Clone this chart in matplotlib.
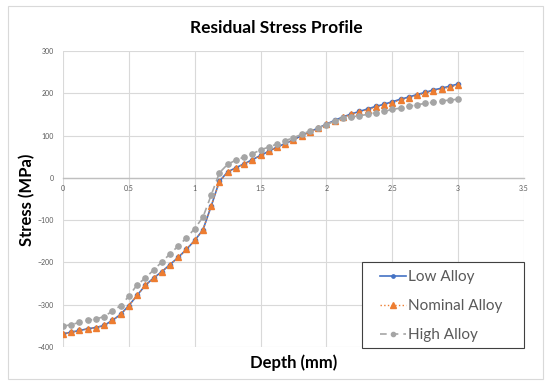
import numpy as np
import matplotlib
matplotlib.use("Agg")
from matplotlib import pyplot as plt
from matplotlib.patches import Rectangle

plt.rcParams['font.family'] = ['Lato', 'DejaVu Sans']

# depth (mm), one point every 0.0625 mm
depth = np.arange(49) * 0.0625

low_alloy = [-369, -365, -361, -357, -354, -349, -337, -323, -302, -278,
             -254, -237, -222, -205, -188, -169, -148, -123, -67, -8,
             14, 24, 33, 43, 53, 63, 73, 81, 90, 100,
             109, 118, 127, 136, 144, 151, 157, 163, 169, 174,
             180, 186, 191, 197, 202, 208, 212, 217, 222]
nominal_alloy = [-369, -365, -361, -357, -354, -349, -337, -323, -302, -278,
                 -254, -237, -222, -205, -188, -169, -148, -123, -67, -9,
                 13, 24, 33, 42, 53, 63, 72, 81, 90, 99,
                 109, 117, 127, 135, 143, 150, 156, 161, 167, 172,
                 178, 184, 189, 195, 200, 206, 210, 215, 219]
high_alloy = [-351, -347, -342, -337, -334, -328, -315, -302, -280, -253,
              -237, -218, -199, -180, -161, -142, -120, -93, -41, 12,
              32, 42, 49, 57, 66, 73, 80, 88, 95, 103,
              111, 118, 126, 134, 141, 144, 147, 150, 154, 157,
              162, 165, 169, 173, 176, 179, 182, 184, 186]

fig = plt.figure(figsize=(5.52, 3.87), dpi=100)
fig.patches.append(Rectangle((0.0145, 0.0207), 0.9692, 0.9638, transform=fig.transFigure,
                             fill=False, edgecolor='#D9D9D9', linewidth=0.8))

ax = fig.add_axes([0.1141, 0.1034, 0.8352, 0.7648])

ax.plot(depth, low_alloy, color='#4472C4', linewidth=1.2, marker='o', markersize=3,
        label='Low Alloy', zorder=3)
ax.plot(depth, nominal_alloy, color='#ED7D31', linewidth=1.0, linestyle=':', marker='^',
        markersize=4.8, label='Nominal Alloy', zorder=4)
ax.plot(depth, high_alloy, color='#A5A5A5', linewidth=1.2, linestyle=(0, (4, 3)), marker='o',
        markersize=3.8, label='High Alloy', zorder=5)

ax.set_xlim(0, 3.5)
ax.set_ylim(-400, 300)
ax.set_xticks(np.arange(0, 3.51, 0.5))
ax.set_xticklabels(['0', '0.5', '1', '1.5', '2', '2.5', '3', '3.5'])
ax.set_yticks(range(-400, 301, 100))
ax.grid(True, color='#D9D9D9', linewidth=0.8)
ax.set_axisbelow(True)

for s in ['top', 'right', 'left']:
    ax.spines[s].set_visible(False)
ax.spines['bottom'].set_position(('data', 0))
ax.spines['bottom'].set_color('#BFBFBF')
ax.spines['bottom'].set_linewidth(1.0)
ax.tick_params(length=0, labelsize=5, labelcolor='#595959')
ax.tick_params(axis='x', pad=5)
ax.tick_params(axis='y', pad=6.5)

fig.text(0.5, 0.928, 'Residual Stress Profile', ha='center', va='center',
         fontsize=12.5, fontweight='bold')
fig.text(0.049, 0.483, 'Stress (MPa)', ha='center', va='center', rotation=90,
         fontsize=12, fontweight='bold')
fig.text(0.532, 0.062, 'Depth (mm)', ha='center', va='center',
         fontsize=12, fontweight='bold')

# legend box drawn by hand so the padding matches
ax.add_patch(Rectangle((0.6558, 0.1008), 0.2935, 0.2222, transform=fig.transFigure,
                       facecolor='white', edgecolor='#404040', linewidth=0.8,
                       zorder=6, clip_on=False))
leg = ax.legend(loc='upper left', bbox_to_anchor=(0.6884, 0.3017), bbox_transform=fig.transFigure,
                fontsize=11, frameon=False, labelcolor='#595959', markerscale=0.8,
                handlelength=1.7, handletextpad=0.15, borderpad=0, labelspacing=0.97,
                borderaxespad=0)
leg.set_zorder(7)

plt.savefig('out.png', dpi=100)
